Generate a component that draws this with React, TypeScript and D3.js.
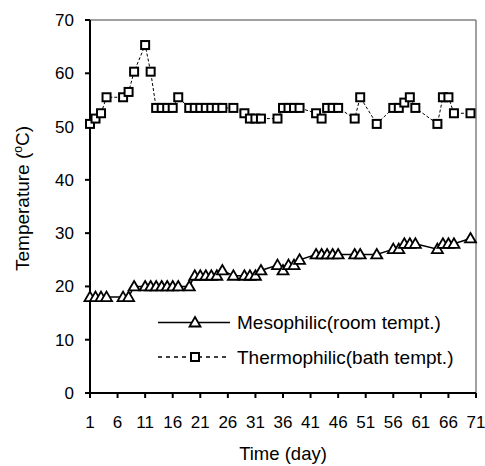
import React from 'react';
import * as d3 from 'd3';

const days = [1, 2, 3, 4, 7, 8, 9, 11, 12, 13, 14, 15, 16, 17, 19, 20, 21, 22, 23, 24, 25, 27, 29, 30, 31, 32, 35, 36, 37, 38, 39, 42, 43, 44, 45, 46, 49, 50, 53, 56, 57, 58, 59, 60, 64, 65, 66, 67, 70];
const mesophilic = [18, 18, 18, 18, 18, 18, 20, 20, 20, 20, 20, 20, 20, 20, 20, 22, 22, 22, 22, 22, 23, 22, 22, 22, 22, 23, 24, 23, 24, 24, 25, 26, 26, 26, 26, 26, 26, 26, 26, 27, 27, 28, 28, 28, 27, 28, 28, 28, 29];
const thermophilic = [50.5, 51.5, 52.5, 55.5, 55.5, 56.5, 60.3, 65.3, 60.3, 53.5, 53.5, 53.5, 53.5, 55.5, 53.5, 53.5, 53.5, 53.5, 53.5, 53.5, 53.5, 53.5, 52.5, 51.5, 51.5, 51.5, 51.5, 53.5, 53.5, 53.5, 53.5, 52.5, 51.5, 53.5, 53.5, 53.5, 51.5, 55.5, 50.5, 53.5, 53.5, 54.5, 55.5, 53.5, 50.5, 55.5, 55.5, 52.5, 52.5];
const yTicks = [0, 10, 20, 30, 40, 50, 60, 70];
const xTicks = [1, 6, 11, 16, 21, 26, 31, 36, 41, 46, 51, 56, 61, 66, 71];
const seriesNames = ['Mesophilic(room tempt.)', 'Thermophilic(bath tempt.)'];

const FONT = 'Arial, "Liberation Sans", sans-serif';

const triPath = 'M0,-5.5 L5.5,4 L-5.5,4 Z';

export default function App() {
  const W = 485, H = 466;
  const L = 90, R = 476, T = 20, B = 393;
  const x = d3.scaleLinear().domain([1, 71]).range([L, R]);
  const y = d3.scaleLinear().domain([0, 70]).range([B, T]);
  const line = d3.line<number>().x((d, i) => x(days[i])).y((d) => y(d));

  return (
    <svg width={W} height={H} style={{ position: 'absolute', left: 0, top: 0, background: '#fff' }} fontFamily={FONT}>
      <rect x={0} y={0} width={W} height={H} fill="#fff" />
      {/* plot border (gray top/right) */}
      <line x1={L} x2={R} y1={T} y2={T} stroke="#808080" strokeWidth={1.5} />
      <line x1={R} x2={R} y1={T} y2={B} stroke="#808080" strokeWidth={1.5} />
      {/* axes */}
      <line x1={L} x2={L} y1={T} y2={B + 1} stroke="#000" strokeWidth={2} />
      <line x1={L - 1} x2={R} y1={B} y2={B} stroke="#000" strokeWidth={2} />
      {yTicks.map((t) => (
        <g key={'y' + t}>
          <line x1={L - 5} x2={L} y1={y(t)} y2={y(t)} stroke="#000" strokeWidth={2} />
          <text x={74} y={y(t)} dy="0.35em" textAnchor="end" fontSize={17} fill="#000">{t}</text>
        </g>
      ))}
      {xTicks.map((t) => (
        <g key={'x' + t}>
          <line x1={x(t)} x2={x(t)} y1={B} y2={B + 5} stroke="#000" strokeWidth={2} />
          <text x={x(t)} y={428} textAnchor="middle" fontSize={17} fill="#000">{t}</text>
        </g>
      ))}
      <text x={(L + R) / 2} y={460} textAnchor="middle" fontSize={18.5} fill="#000">Time (day)</text>
      <text transform={`translate(29,${(T + B) / 2 - 8}) rotate(-90)`} textAnchor="middle" fontSize={19} fill="#000">
        Temperature (<tspan fontSize={12} dy={-7}>o</tspan><tspan dy={7}>C)</tspan>
      </text>

      {/* thermophilic */}
      <path d={line(thermophilic) || ''} fill="none" stroke="#000" strokeWidth={1} strokeDasharray="3,2" />
      {thermophilic.map((v, i) => (
        <rect key={'t' + i} x={x(days[i]) - 4} y={y(v) - 4} width={8} height={8} fill="#fff" stroke="#000" strokeWidth={2} />
      ))}
      {/* mesophilic */}
      <path d={line(mesophilic) || ''} fill="none" stroke="#000" strokeWidth={1.5} />
      {mesophilic.map((v, i) => (
        <path key={'m' + i} d={triPath} transform={`translate(${x(days[i])},${y(v)})`} fill="#fff" stroke="#000" strokeWidth={1.8} />
      ))}

      {/* legend */}
      <g>
        <line x1={158} x2={230} y1={322.5} y2={322.5} stroke="#000" strokeWidth={1.5} />
        <path d={triPath} transform="translate(195,322.5)" fill="#fff" stroke="#000" strokeWidth={1.8} />
        <text x={237} y={322.5} dy="0.35em" fontSize={19} fill="#000">{seriesNames[0]}</text>
        <line x1={158} x2={230} y1={357} y2={357} stroke="#000" strokeWidth={1.5} strokeDasharray="4,4" />
        <rect x={191} y={353} width={8} height={8} fill="#fff" stroke="#000" strokeWidth={2} />
        <text x={237} y={357} dy="0.35em" fontSize={19} fill="#000">{seriesNames[1]}</text>
      </g>
    </svg>
  );
}
